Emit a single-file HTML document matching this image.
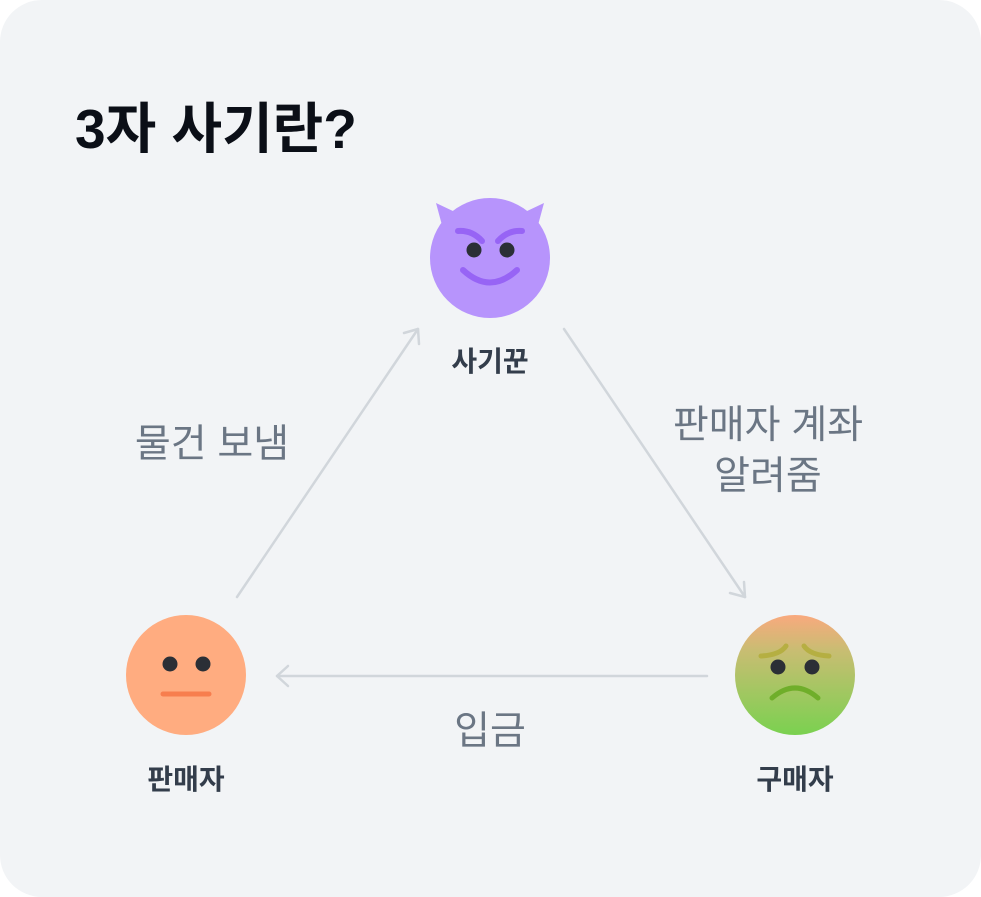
<!DOCTYPE html>
<html><head><meta charset="utf-8"><style>
html,body{margin:0;padding:0;background:#fff;}
svg{display:block;}
text{font-family:"Liberation Sans","Noto Sans CJK KR",sans-serif;}
</style></head><body>
<svg width="981" height="897" viewBox="0 0 981 897" xmlns="http://www.w3.org/2000/svg">
<defs>
<linearGradient id="sick" x1="0" y1="0" x2="0" y2="1">
<stop offset="0" stop-color="#f9a97e"/>
<stop offset="0.3" stop-color="#c8bd72"/>
<stop offset="1" stop-color="#7ad150"/>
</linearGradient>
</defs>
<rect x="0" y="0" width="981" height="897" rx="42" fill="#f2f4f6"/>
<text x="75" y="148" font-size="55" font-weight="bold" fill="#0b0f17">3자 사기란?</text>

<g stroke="#d1d6db" stroke-width="2.5" fill="none" stroke-linecap="round" stroke-linejoin="round">
<line x1="237" y1="597" x2="418" y2="329"/>
<polyline points="404,333 418,329 419,344"/>
<line x1="564" y1="329" x2="745" y2="597"/>
<polyline points="730,593 745,597 744,582"/>
<line x1="707" y1="676" x2="277" y2="676"/>
<polyline points="288,666 277,676 288,686"/>
</g>

<path d="M436,203 L455,212 L470,222 L446,240 Z" fill="#b794fc"/>
<path d="M544,203 L525,212 L510,222 L534,240 Z" fill="#b794fc"/>
<circle cx="490" cy="258" r="60" fill="#b794fc"/>
<g stroke="#9764f5" stroke-width="6" fill="none" stroke-linecap="round">
<path d="M458,231 Q472,230 482,241"/>
<path d="M522,231 Q508,230 498,241"/>
<path d="M463,270 Q490,295 517,270"/>
</g>
<circle cx="474" cy="250" r="7.5" fill="#2b2f36"/>
<circle cx="507" cy="250" r="7.5" fill="#2b2f36"/>
<text x="490" y="371" font-size="28" font-weight="bold" fill="#333d4b" text-anchor="middle">사기꾼</text>

<circle cx="186" cy="675" r="60" fill="#ffac80"/>
<circle cx="170" cy="664" r="7.5" fill="#2b2f36"/>
<circle cx="203" cy="664" r="7.5" fill="#2b2f36"/>
<line x1="163" y1="694" x2="209" y2="694" stroke="#f77e4e" stroke-width="5" stroke-linecap="round"/>
<text x="186" y="789" font-size="28" font-weight="bold" fill="#333d4b" text-anchor="middle">판매자</text>

<circle cx="795" cy="675" r="60" fill="url(#sick)"/>
<g stroke="#b3ad3a" stroke-width="5" fill="none" stroke-linecap="round" opacity="0.85">
<path d="M761,656 Q780,655 786,646"/>
<path d="M829,656 Q810,655 804,646"/>
</g>
<path d="M772,698 Q795,678 818,698" stroke="#6fae2a" stroke-width="5" fill="none" stroke-linecap="round"/>
<circle cx="778" cy="667" r="7.5" fill="#2b2f36"/>
<circle cx="812" cy="667" r="7.5" fill="#2b2f36"/>
<text x="795" y="789" font-size="28" font-weight="bold" fill="#333d4b" text-anchor="middle">구매자</text>

<text x="212" y="457" font-size="39" fill="#6b7684" text-anchor="middle">물건 보냄</text>
<text x="768" y="438" font-size="39" fill="#6b7684" text-anchor="middle">판매자 계좌</text>
<text x="768" y="489" font-size="39" fill="#6b7684" text-anchor="middle">알려줌</text>
<text x="490" y="744" font-size="39" fill="#6b7684" text-anchor="middle">입금</text>
</svg>
</body></html>
